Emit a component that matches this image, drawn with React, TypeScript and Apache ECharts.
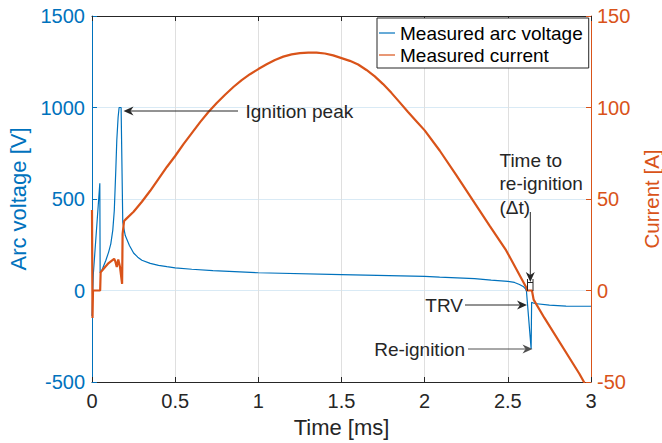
import React, { useEffect, useRef } from "react";
import * as echarts from "echarts";

// ---- data ----
const xTickStep = 0.5;
const voltageTicks = [-500, 0, 500, 1000, 1500];
const currentTicks = [-50, 0, 50, 100, 150];

const voltageTime = [
  0, 0.008, 0.047, 0.049, 0.06, 0.083, 0.1, 0.113, 0.125, 0.134, 0.143, 0.149, 0.157, 0.163, 0.175,
  0.185, 0.2, 0.225, 0.25, 0.275, 0.3, 0.35, 0.4, 0.45, 0.5, 0.6, 0.727, 1.0, 1.5, 2.0, 2.09, 2.3,
  2.4, 2.5, 2.54, 2.57, 2.595, 2.606, 2.612, 2.64, 2.643, 2.66, 2.75, 2.85, 3.0,
];
const voltageValue = [
  -140, 90, 586, 95, 112, 164, 210, 255, 330, 437, 656, 820, 947, 1000, 1000,
  373, 300, 246, 205, 182, 165, 148, 137, 130, 124, 116, 109, 97, 87, 77, 73, 65,
  57, 50, 44, 33, 20, 9, -4, -319, -64, -71, -80, -85, -86,
];

const currentTime = [
  0, 0.003, 0.006, 0.049, 0.052, 0.08, 0.1, 0.133, 0.14, 0.149, 0.158, 0.168, 0.181, 0.184, 0.193,
  0.204, 0.25, 0.3, 0.35, 0.4, 0.45, 0.5, 0.55, 0.6, 0.65, 0.7, 0.75, 0.8, 0.85, 0.9, 0.95, 1.0,
  1.05, 1.1, 1.15, 1.2, 1.25, 1.3, 1.35, 1.4, 1.45, 1.5, 1.55, 1.6, 1.65, 1.7, 1.75, 1.8, 1.85,
  1.9, 1.95, 2.0, 2.09, 2.19, 2.29, 2.39, 2.49, 2.61, 2.615, 2.645, 2.655, 2.72, 2.93, 2.97,
];
const currentValue = [
  44, -15, 0, 0, 10, 13, 15, 17.3, 16, 12.8, 17, 13, 3.6, 31, 38,
  39, 43, 48.5, 54.5, 61, 67.5, 73.5, 80, 86, 92, 97.5, 102.5, 107, 111.2, 115, 118.2, 121,
  123.6, 126, 127.8, 129, 129.7, 130, 130, 129.5, 128.5, 127, 125.5, 123.5, 120.5, 117, 112.8, 108, 102.8,
  97.5, 92.5, 87.5, 76.5, 63, 49.2, 35.5, 21.9, 1.8, 0, 0, -5, -15, -45.5, -52,
];

const BLUE = "#0072BD";
const ORANGE = "#D95319";
const DARK = "#262626";
const FONT = '"Liberation Sans", Arial, Helvetica, sans-serif';

function arrow(x1: number, y1: number, x2: number, y2: number, color: string) {
  const dx = x2 - x1;
  const dy = y2 - y1;
  const len = Math.hypot(dx, dy);
  const ux = dx / len;
  const uy = dy / len;
  const px = -uy;
  const py = ux;
  const L = 10;
  const W = 4.5;
  const N = 7;
  const bx = x2 - ux * L;
  const by = y2 - uy * L;
  const nx = x2 - ux * N;
  const ny = y2 - uy * N;
  return [
    { type: "line", silent: true, z: 100, shape: { x1, y1, x2: nx, y2: ny }, style: { stroke: color, lineWidth: 1 } },
    {
      type: "polygon",
      silent: true,
      z: 100,
      shape: { points: [[x2, y2], [bx + px * W, by + py * W], [nx, ny], [bx - px * W, by - py * W]] },
      style: { fill: color },
    },
  ];
}

function text(x: number, y: number, t: string, align: string, extra: any = {}) {
  return {
    type: "text",
    silent: true,
    z: 100,
    x,
    y,
    style: {
      text: t,
      font: `19px ${FONT}`,
      fill: DARK,
      align,
      verticalAlign: "middle",
      ...extra,
    },
  };
}

const plain = (v: number) => String(v);

export default function App() {
  const ref = useRef<HTMLDivElement>(null);

  useEffect(() => {
    if (!ref.current) return;
    const chart = echarts.init(ref.current, undefined, { renderer: "svg" });

    const voltageData = voltageTime.map((t, i) => [t, voltageValue[i]]);
    const currentData = currentTime.map((t, i) => [t, currentValue[i]]);

    const graphics: any[] = [
      text(245.5, 111, "Ignition peak", "left"),
      ...arrow(238, 111, 123.5, 111, DARK),
      text(499.5, 183.5, "Time to\nre-ignition\n(\u0394t)", "left", { lineHeight: 23.5 }),
      ...arrow(530.3, 212, 530.3, 282, DARK),
      { type: "line", silent: true, z: 100, shape: { x1: 527.5, y1: 279, x2: 527.5, y2: 291 }, style: { stroke: DARK, lineWidth: 1 } },
      { type: "line", silent: true, z: 100, shape: { x1: 533, y1: 279, x2: 533, y2: 291 }, style: { stroke: DARK, lineWidth: 1 } },
      { type: "line", silent: true, z: 100, shape: { x1: 527.5, y1: 282.5, x2: 533, y2: 282.5 }, style: { stroke: DARK, lineWidth: 1 } },
      text(463, 305, "TRV", "right"),
      ...arrow(465, 305, 527, 305, DARK),
      text(465, 349, "Re-ignition", "right"),
      ...arrow(468, 349, 532.5, 349, "#505050"),
    ];

    const option: any = {
      animation: false,
      backgroundColor: "#ffffff",
      textStyle: { fontFamily: FONT },
      grid: { left: 92, right: 71, top: 16, bottom: 61, containLabel: false, outerBoundsMode: "none" },
      legend: {
        orient: "vertical",
        left: 377,
        top: 18,
        padding: [4, 6, 2, 2],
        itemGap: 0,
        itemWidth: 16,
        itemHeight: 1.2,
        icon: "rect",
        backgroundColor: "#ffffff",
        borderColor: DARK,
        borderWidth: 1,
        borderRadius: 0,
        textStyle: { fontSize: 19, color: "#000000", lineHeight: 22, fontFamily: FONT },
        data: ["Measured arc voltage", "Measured current"],
      },
      xAxis: [
        {
          type: "value",
          min: 0,
          max: 3,
          interval: xTickStep,
          position: "bottom",
          name: "Time [ms]",
          nameLocation: "middle",
          nameGap: 34,
          nameTextStyle: { fontSize: 22, color: DARK, fontFamily: FONT },
          axisLine: { show: true, onZero: false, lineStyle: { color: DARK, width: 1 } },
          axisTick: { show: true, inside: true, length: 5, lineStyle: { color: DARK } },
          axisLabel: { fontSize: 20, color: DARK, margin: 9, fontFamily: FONT, formatter: plain },
          splitLine: { show: true, lineStyle: { color: "#dfdfdf", width: 1 } },
        },
        {
          type: "value",
          min: 0,
          max: 3,
          interval: xTickStep,
          position: "top",
          axisLine: { show: true, onZero: false, lineStyle: { color: DARK, width: 1 } },
          axisTick: { show: true, inside: true, length: 5, lineStyle: { color: DARK } },
          axisLabel: { show: false },
          splitLine: { show: false },
        },
      ],
      yAxis: [
        {
          type: "value",
          min: voltageTicks[0],
          max: voltageTicks[voltageTicks.length - 1],
          interval: voltageTicks[1] - voltageTicks[0],
          position: "left",
          name: "Arc voltage [V]",
          nameLocation: "middle",
          nameGap: 56,
          nameTextStyle: { fontSize: 22, color: BLUE, fontFamily: FONT },
          axisLine: { show: true, onZero: false, lineStyle: { color: BLUE, width: 1 } },
          axisTick: { show: true, inside: true, length: 5, lineStyle: { color: BLUE } },
          axisLabel: { fontSize: 20, color: BLUE, margin: 7, fontFamily: FONT, formatter: plain },
          splitLine: { show: true, lineStyle: { color: "#d9eaf5", width: 1 } },
        },
        {
          type: "value",
          min: currentTicks[0],
          max: currentTicks[currentTicks.length - 1],
          interval: currentTicks[1] - currentTicks[0],
          position: "right",
          name: "Current [A]",
          nameLocation: "middle",
          nameGap: 49,
          nameTextStyle: { fontSize: 20.5, color: ORANGE, fontFamily: FONT },
          axisLine: { show: true, onZero: false, lineStyle: { color: ORANGE, width: 1 } },
          axisTick: { show: true, inside: true, length: 5, lineStyle: { color: ORANGE } },
          axisLabel: { fontSize: 20, color: ORANGE, margin: 6, fontFamily: FONT, formatter: plain },
          splitLine: { show: false },
        },
      ],
      series: [
        {
          name: "Measured arc voltage",
          type: "line",
          xAxisIndex: 0,
          yAxisIndex: 0,
          data: voltageData,
          symbol: "none",
          showSymbol: false,
          clip: true,
          z: 2,
          lineStyle: { color: BLUE, width: 1.2 },
          itemStyle: { color: BLUE },
        },
        {
          name: "Measured current",
          type: "line",
          xAxisIndex: 0,
          yAxisIndex: 1,
          data: currentData,
          symbol: "none",
          showSymbol: false,
          clip: true,
          z: 3,
          lineStyle: { color: ORANGE, width: 2.2 },
          itemStyle: { color: ORANGE },
        },
      ],
      graphic: graphics,
    };

    chart.setOption(option);
    return () => {
      chart.dispose();
    };
  }, []);

  return (
    <div
      ref={ref}
      style={{ position: "fixed", left: 0, top: 0, width: 662, height: 443, background: "#fff" }}
    />
  );
}
